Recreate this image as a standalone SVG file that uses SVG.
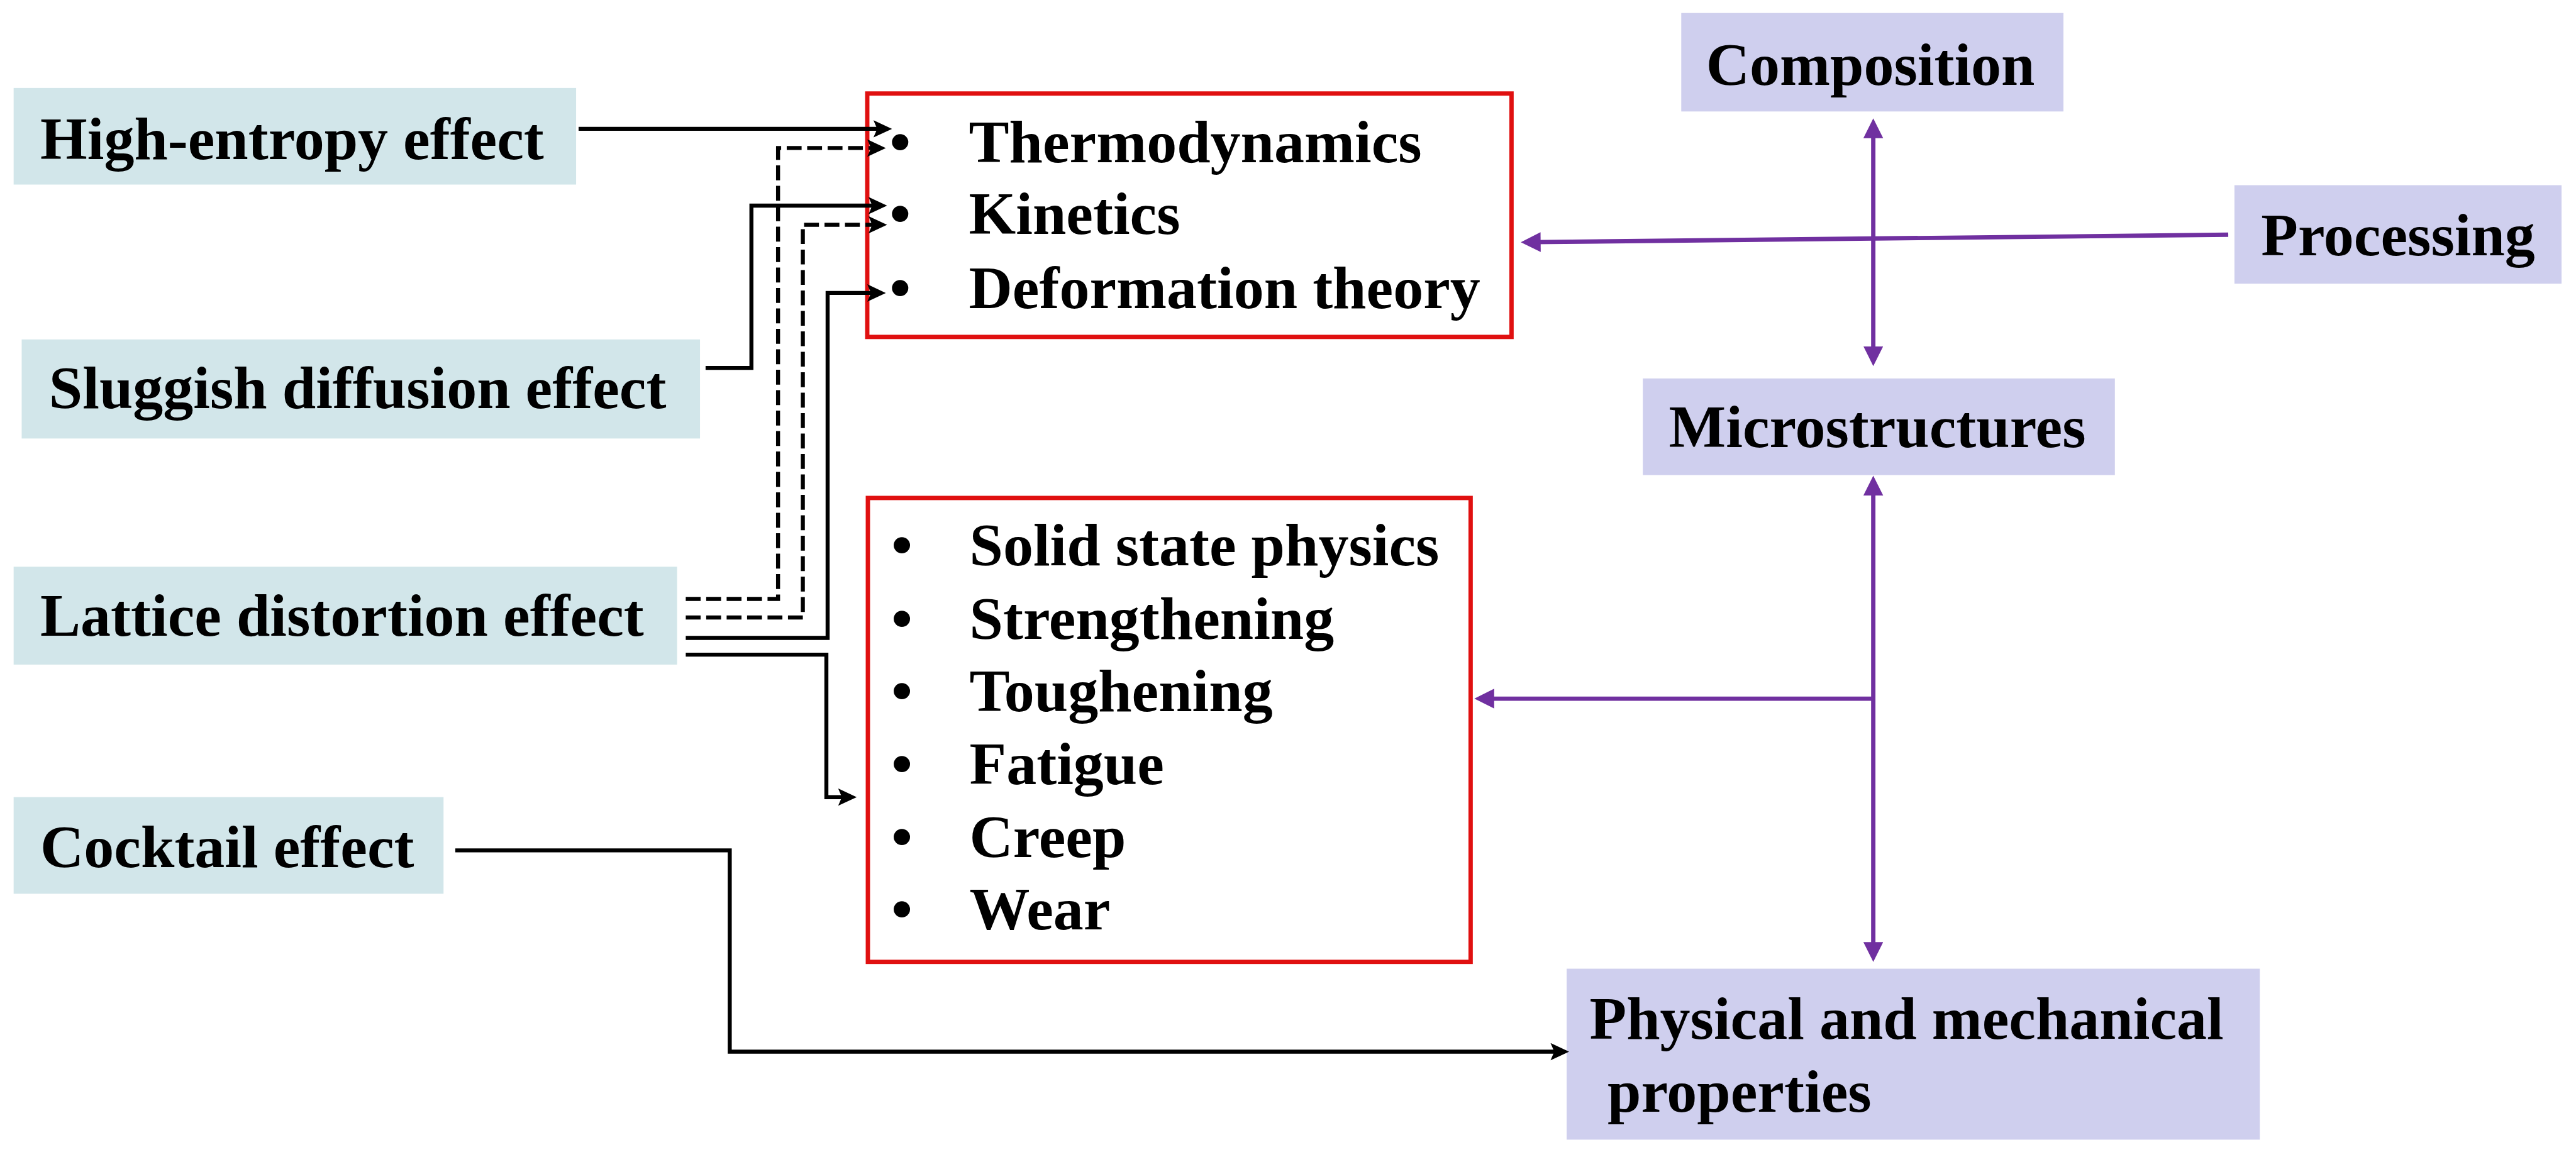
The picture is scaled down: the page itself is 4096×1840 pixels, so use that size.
<svg xmlns="http://www.w3.org/2000/svg" width="4096" height="1840" viewBox="0 0 4096 1840">
<defs>
<style>
.t{font-family:"Liberation Serif","Times New Roman",serif;font-weight:bold;font-size:97.5px;fill:#000}
.blue{fill:#D2E6EA}
.purp{fill:#CFCFEE}
.red{fill:#fff;stroke:#E01010;stroke-width:7}
.blk{fill:none;stroke:#000;stroke-width:6.5}
.dash{fill:none;stroke:#000;stroke-width:6.5;stroke-dasharray:24 9}
.pl{fill:none;stroke:#7030A0;stroke-width:7}
</style>
<marker id="ab" markerUnits="userSpaceOnUse" markerWidth="32" markerHeight="30" refX="15" refY="14" orient="auto" viewBox="0 0 32 30">
<path d="M0,0 L30,14 L0,28 L6,14 z" fill="#000"/>
</marker>
<marker id="ap" markerUnits="userSpaceOnUse" markerWidth="34" markerHeight="34" refX="16" refY="16" orient="auto-start-reverse" viewBox="0 0 34 34">
<path d="M0,0 L32,16 L0,32 z" fill="#7030A0"/>
</marker>
</defs>
<rect x="0" y="0" width="4096" height="1840" fill="#fff"/>
<g transform="scale(0.985)">
<g id="high-entropy"><rect class="blue" x="22" y="142" width="908" height="156"/><text class="t" x="65" y="257">High-entropy effect</text></g>
<g id="sluggish"><rect class="blue" x="35" y="548" width="1095" height="160"/><text class="t" x="79" y="659">Sluggish diffusion effect</text></g>
<g id="lattice"><rect class="blue" x="22" y="915" width="1071" height="158"/><text class="t" x="65" y="1026">Lattice distortion effect</text></g>
<g id="cocktail"><rect class="blue" x="22" y="1287" width="694" height="156"/><text class="t" x="65" y="1400">Cocktail effect</text></g>
<g id="theory-box"><rect class="red" x="1400" y="151" width="1040" height="393"/>
<text class="t" x="1453" y="262" text-anchor="middle">•</text><text class="t" x="1564" y="262">Thermodynamics</text>
<text class="t" x="1453" y="378" text-anchor="middle">•</text><text class="t" x="1564" y="378">Kinetics</text>
<text class="t" x="1453" y="497" text-anchor="middle">•</text><text class="t" x="1564" y="497">Deformation theory</text></g>
<g id="property-box"><rect class="red" x="1401" y="804" width="973" height="749"/>
<text class="t" x="1456" y="913" text-anchor="middle">•</text><text class="t" x="1565" y="913">Solid state physics</text>
<text class="t" x="1456" y="1031" text-anchor="middle">•</text><text class="t" x="1565" y="1031">Strengthening</text>
<text class="t" x="1456" y="1148" text-anchor="middle">•</text><text class="t" x="1565" y="1148">Toughening</text>
<text class="t" x="1456" y="1266" text-anchor="middle">•</text><text class="t" x="1565" y="1266">Fatigue</text>
<text class="t" x="1456" y="1384" text-anchor="middle">•</text><text class="t" x="1565" y="1384">Creep</text>
<text class="t" x="1456" y="1501" text-anchor="middle">•</text><text class="t" x="1565" y="1501">Wear</text></g>
<g id="composition"><rect class="purp" x="2714" y="21" width="617" height="159"/><text class="t" x="2754" y="137">Composition</text></g>
<g id="processing"><rect class="purp" x="3607" y="299" width="528" height="159"/><text class="t" x="3650" y="412">Processing</text></g>
<g id="microstructures"><rect class="purp" x="2652" y="611" width="762" height="156"/><text class="t" x="2694" y="722">Microstructures</text></g>
<g id="properties"><rect class="purp" x="2529" y="1564" width="1119" height="276"/><text class="t" x="2566" y="1677">Physical and mechanical</text><text class="t" x="2595" y="1795">properties</text></g>
<g id="connectors">
<path class="blk" d="M934,208 H1425" marker-end="url(#ab)"/>
<path class="blk" d="M1139,594 H1213 V332 H1417" marker-end="url(#ab)"/>
<path class="dash" d="M1107,967 H1256 V239 H1415" marker-end="url(#ab)"/>
<path class="dash" d="M1107,997 H1296 V363 H1417" marker-end="url(#ab)"/>
<path class="blk" d="M1107,1030 H1336 V473 H1415" marker-end="url(#ab)"/>
<path class="blk" d="M1107,1057 H1334 V1287 H1368" marker-end="url(#ab)"/>
<path class="blk" d="M735,1373 H1178 V1698 H2518" marker-end="url(#ab)"/>
<path class="pl" d="M3024,207 V575" marker-start="url(#ap)" marker-end="url(#ap)"/>
<path class="pl" d="M3597,379 L2471,391" marker-end="url(#ap)"/>
<path class="pl" d="M3024,784 V1537" marker-start="url(#ap)" marker-end="url(#ap)"/>
<path class="pl" d="M3024,1128 H2396" marker-end="url(#ap)"/>
</g>
</g>
</svg>
